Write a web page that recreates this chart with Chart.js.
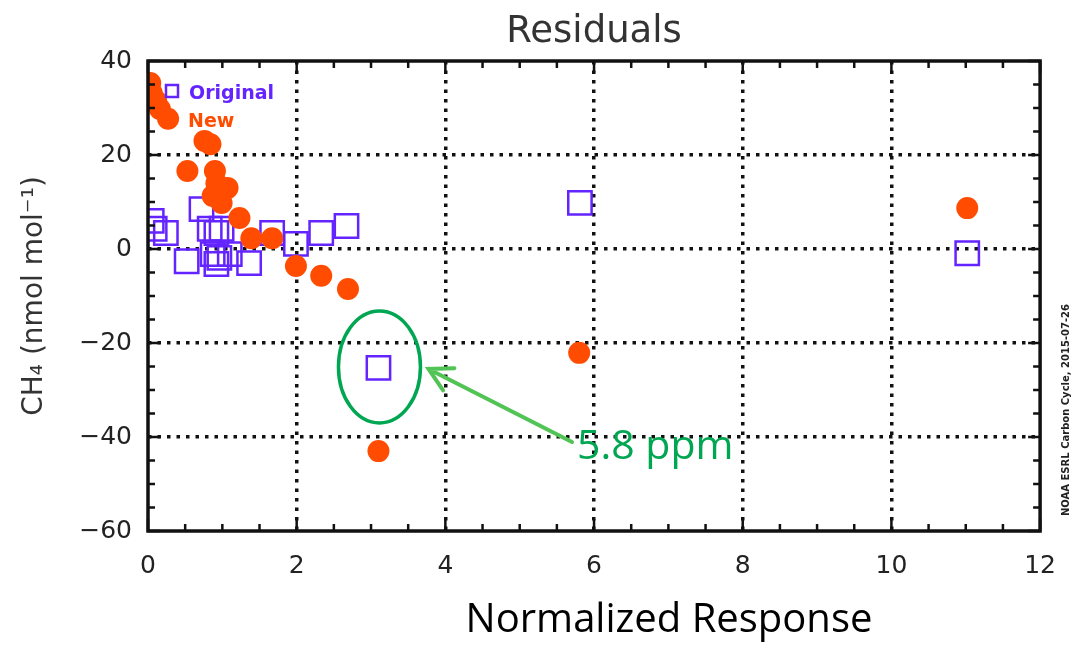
<!DOCTYPE html>
<html>
<head>
<meta charset="utf-8">
<title>Residuals</title>
<script src="https://cdn.jsdelivr.net/npm/chart.js@4/dist/chart.umd.min.js"></script>
<style>
body{margin:0;background:#fff;}
#wrap{width:1076px;height:649px;}
</style>
</head>
<body>
<div id="wrap"><canvas id="myChart" width="1076" height="649"></canvas></div>
<script>
//Original - blue squares
const origX = [0.05, 0.09, 0.24, 0.52, 0.72, 0.83, 0.92, 0.99, 0.87, 0.96, 0.92, 1.10, 1.36, 1.67, 1.99, 2.33, 2.67, 3.10, 5.81, 11.02];
const origY = [6.0, 4.3, 3.4, -2.6, 8.5, 4.3, 3.4, 4.3, -1.1, -1.9, -3.2, -1.1, -3.0, 3.4, 1.1, 3.4, 4.9, -25.3, 9.8, -0.9];
//New - orange dots
const newX = [0.03, 0.05, 0.11, 0.16, 0.27, 0.53, 0.76, 0.84, 0.90, 0.92, 1.07, 0.87, 0.99, 1.23, 1.39, 1.67, 1.99, 2.33, 2.69, 3.10, 5.80, 11.02];
const newY = [35.3, 33.2, 31.5, 29.8, 27.7, 16.6, 23.0, 22.3, 16.6, 14.0, 13.0, 11.3, 9.8, 6.6, 2.3, 2.3, -3.6, -5.7, -8.5, -43.0, -22.1, 8.7];
//tick labels
const xTicks = [0, 2, 4, 6, 8, 10, 12];
const yTicks = [-60, -40, -20, 0, 20, 40];
//circled point (index in origX / origY)
const markedIdx = 17;

const BLUE = '#6424ff';
const ORANGE = '#ff4c00';
const GREEN = '#00a651';

function toPoints(xs, ys){
	return xs.map((v, i) => ({x: v, y: ys[i]}));
}

//frame + inward ticks (IDL style)
const framePlugin = {
	id: 'frame',
	afterDatasetsDraw(chart){
		const {ctx, chartArea: a, scales: {x, y}} = chart;
		ctx.save();
		ctx.strokeStyle = '#111';
		ctx.lineWidth = 2.5;
		ctx.beginPath();
		for(let v = x.min; v <= x.max + 1e-9; v += 0.5){
			const px = x.getPixelForValue(v);
			const len = (Math.abs(v % 2) < 1e-9) ? 12 : 7;
			ctx.moveTo(px, a.bottom); ctx.lineTo(px, a.bottom - len);
			ctx.moveTo(px, a.top); ctx.lineTo(px, a.top + len);
		}
		for(let v = y.min; v <= y.max + 1e-9; v += 5){
			const py = y.getPixelForValue(v);
			const len = (Math.abs(v % 20) < 1e-9) ? 12 : 7;
			ctx.moveTo(a.left, py); ctx.lineTo(a.left + len, py);
			ctx.moveTo(a.right, py); ctx.lineTo(a.right - len, py);
		}
		ctx.stroke();
		ctx.lineWidth = 3.5;
		ctx.strokeRect(a.left, a.top, a.right - a.left, a.bottom - a.top);
		ctx.restore();
	}
};

//legend, annotation, x title, credit line
const extraPlugin = {
	id: 'extra',
	afterDraw(chart){
		const {ctx, chartArea: a, scales: {x, y}} = chart;
		ctx.save();

		// legend
		ctx.strokeStyle = BLUE;
		ctx.lineWidth = 2.5;
		ctx.strokeRect(a.left + 18, a.top + 24, 12, 12);
		ctx.font = 'bold 19px "DejaVu Sans"';
		ctx.textBaseline = 'middle';
		ctx.textAlign = 'left';
		ctx.fillStyle = BLUE;
		ctx.fillText('Original', a.left + 41, a.top + 33);
		ctx.fillStyle = ORANGE;
		ctx.fillText('New', a.left + 40, a.top + 61);

		// circled point + arrow
		const cx = x.getPixelForValue(origX[markedIdx]);
		const cy = y.getPixelForValue(origY[markedIdx]);
		ctx.strokeStyle = GREEN;
		ctx.lineWidth = 3.5;
		ctx.beginPath();
		ctx.ellipse(cx + 1, cy - 1, 41, 56, 0, 0, Math.PI * 2);
		ctx.stroke();

		const tipX = cx + 50, tipY = cy + 1;
		const tailX = 572, tailY = 442;
		ctx.strokeStyle = '#52c455';
		ctx.lineWidth = 4;
		ctx.lineCap = 'round';
		ctx.beginPath();
		ctx.moveTo(tailX, tailY);
		ctx.lineTo(tipX, tipY);
		const ang = Math.atan2(tailY - tipY, tailX - tipX);
		ctx.moveTo(tipX + 26 * Math.cos(ang - 0.5), tipY + 26 * Math.sin(ang - 0.5));
		ctx.lineTo(tipX, tipY);
		ctx.lineTo(tipX + 26 * Math.cos(ang + 0.5), tipY + 26 * Math.sin(ang + 0.5));
		ctx.stroke();

		ctx.fillStyle = GREEN;
		ctx.font = '41px "Open Sans"';
		ctx.textAlign = 'left';
		ctx.fillText('5.8 ppm', 577, 447);

		// x axis title
		ctx.fillStyle = '#000';
		ctx.font = '40px "Open Sans"';
		ctx.textAlign = 'center';
		ctx.fillText('Normalized Response', 669, 621);

		// credit text on the right
		ctx.translate(1066, 410);
		ctx.rotate(-Math.PI / 2);
		ctx.font = 'bold 10px "DejaVu Sans"';
		ctx.fillStyle = '#222';
		ctx.fillText('NOAA ESRL Carbon Cycle, 2015-07-26', 0, 0);
		ctx.restore();
	}
};

function gridColor(c){
	const v = c.tick ? c.tick.value : null;
	if(v === null) return 'transparent';
	const s = c.scale;
	return (v <= s.min || v >= s.max) ? 'transparent' : '#111';
}

const ctx = document.getElementById('myChart');
new Chart(ctx, {
	type: 'scatter',
	data: {
		datasets: [{
			label: 'New',
			data: toPoints(newX, newY),
			pointStyle: 'circle',
			pointRadius: 11,
			pointHoverRadius: 11,
			backgroundColor: ORANGE,
			borderWidth: 0,
			order: 1
		}, {
			label: 'Original',
			data: toPoints(origX, origY),
			pointStyle: 'rect',
			pointRadius: 16.5,
			pointHoverRadius: 16.5,
			backgroundColor: 'transparent',
			borderColor: BLUE,
			borderWidth: 2.5,
			order: 2
		}]
	},
	options: {
		responsive: false,
		animation: false,
		devicePixelRatio: 1,
		layout: {padding: {left: 0, right: 30, top: 0, bottom: 0}},
		plugins: {
			legend: {display: false},
			tooltip: {enabled: false},
			title: {
				display: true,
				text: 'Residuals',
				fullSize: false,
				color: '#333',
				font: {family: '"DejaVu Sans"', size: 37, weight: 'normal'},
				padding: {top: 10, bottom: 6.6}
			}
		},
		scales: {
			x: {
				type: 'linear',
				min: xTicks[0],
				max: xTicks[xTicks.length - 1],
				afterBuildTicks: s => { s.ticks = xTicks.map(v => ({value: v})); },
				afterFit: s => { s.height = 118; },
				ticks: {
					color: '#222',
					font: {family: '"DejaVu Sans"', size: 25},
					padding: 20,
					maxRotation: 0
				},
				grid: {drawTicks: false, color: gridColor, lineWidth: 3.5},
				border: {display: false, dash: [3.5, 6]}
			},
			y: {
				type: 'linear',
				min: yTicks[0],
				max: yTicks[yTicks.length - 1],
				afterBuildTicks: s => { s.ticks = yTicks.map(v => ({value: v})); },
				afterFit: s => { s.width = 148; },
				ticks: {
					color: '#222',
					font: {family: '"DejaVu Sans"', size: 25},
					padding: 16,
					callback: v => String(v).replace('-', '\u2212')
				},
				grid: {drawTicks: false, color: gridColor, lineWidth: 3.5},
				border: {display: false, dash: [3.5, 6]},
				title: {
					display: true,
					text: 'CH\u2084 (nmol mol\u207B\u00B9)',
					color: '#333',
					font: {family: '"DejaVu Sans"', size: 28},
					padding: {top: 18, bottom: 0}
				}
			}
		}
	},
	plugins: [framePlugin, extraPlugin]
});
</script>
</body>
</html>
